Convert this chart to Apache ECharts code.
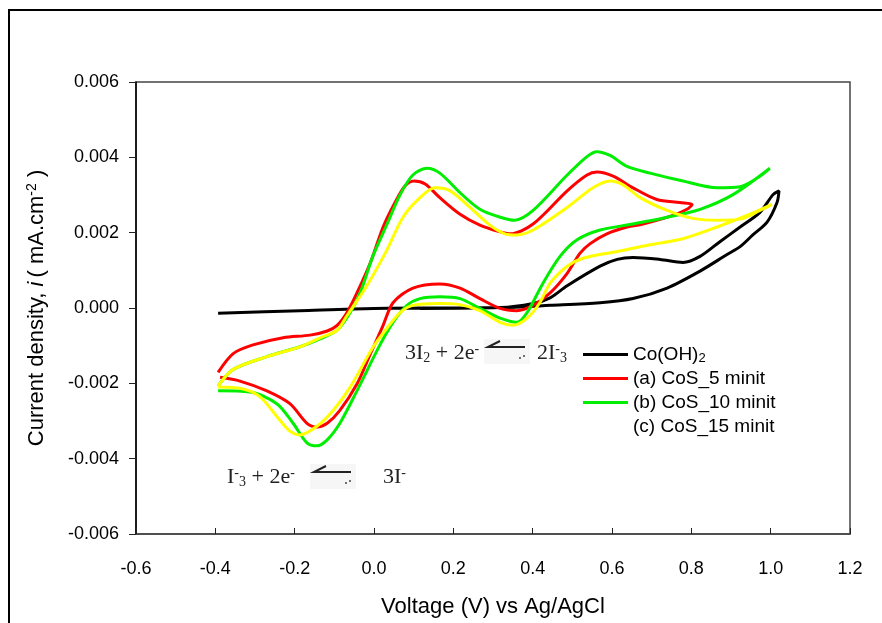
<!DOCTYPE html>
<html>
<head>
<meta charset="utf-8">
<title>CV</title>
<script src="https://cdn.jsdelivr.net/npm/echarts@6/dist/echarts.min.js"></script>
<style>
  html, body { margin: 0; padding: 0; background: #fff; }
  #chart { width: 882px; height: 623px; }
</style>
</head>
<body>
<div id="chart"></div>
<script>
// axis ticks
const xTicks = [-0.6, -0.4, -0.2, 0.0, 0.2, 0.4, 0.6, 0.8, 1.0, 1.2]
const yTicks = [-0.006, -0.004, -0.002, 0.000, 0.002, 0.004, 0.006]

const seriesNames = ['Co(OH)2', '(a) CoS_5 minit', '(b) CoS_10 minit', '(c) CoS_15 minit']
const seriesColors = ['#000000', '#ff0000', '#00ee00', '#ffff00']

// [voltage, current density], in scan order
const coOH2 = [
  [-0.393, -0.00014], [-0.187, -0.00007], [0.0, -0.00001], [0.192, 0.0], [0.318, 0.00001],
  [0.444, 0.00007], [0.570, 0.00014], [0.653, 0.00025], [0.739, 0.00053], [0.822, 0.00098],
  [0.890, 0.00142], [0.923, 0.00163], [0.955, 0.00194], [0.991, 0.00228], [1.016, 0.00280],
  [1.021, 0.00311],
  [1.006, 0.00301], [0.973, 0.00254], [0.923, 0.00215], [0.872, 0.00176], [0.822, 0.00137],
  [0.779, 0.00121], [0.721, 0.00129], [0.653, 0.00134], [0.613, 0.00129], [0.570, 0.00111],
  [0.487, 0.00059], [0.444, 0.00027], [0.401, 0.00012], [0.318, 0.00001], [0.116, -0.00001]
]

const cos5 = [
  [-0.393, -0.00171], [-0.355, -0.00121], [-0.305, -0.00098], [-0.229, -0.00079], [-0.161, -0.00072],
  [-0.118, -0.00061], [-0.093, -0.00046], [-0.068, -0.00012], [-0.043, 0.00040], [-0.010, 0.00118],
  [0.023, 0.00215], [0.053, 0.00280], [0.078, 0.00324], [0.101, 0.00337], [0.129, 0.00329],
  [0.166, 0.00293], [0.217, 0.00249], [0.267, 0.00220], [0.318, 0.00202], [0.343, 0.00197],
  [0.401, 0.00223], [0.487, 0.00311], [0.537, 0.00353], [0.562, 0.00361], [0.603, 0.00350],
  [0.653, 0.00319], [0.713, 0.00288], [0.771, 0.00280], [0.802, 0.00275],
  [0.789, 0.00262], [0.754, 0.00246], [0.678, 0.00223], [0.638, 0.00215], [0.587, 0.00197],
  [0.545, 0.00171], [0.519, 0.00145], [0.487, 0.00092], [0.444, 0.00040], [0.401, 0.00007],
  [0.360, -0.00007], [0.318, -0.00001], [0.267, 0.00025], [0.217, 0.00053], [0.166, 0.00064],
  [0.098, 0.00053], [0.048, 0.00014], [0.023, -0.00046], [-0.010, -0.00124], [-0.043, -0.00202],
  [-0.086, -0.00272], [-0.118, -0.00306], [-0.144, -0.00316], [-0.169, -0.00306], [-0.212, -0.00254],
  [-0.270, -0.00220], [-0.338, -0.00194], [-0.388, -0.00184]
]

const cos10 = [
  [-0.393, -0.00207], [-0.355, -0.00163], [-0.270, -0.00129], [-0.187, -0.00103], [-0.136, -0.00082],
  [-0.093, -0.00059], [-0.060, -0.00012], [-0.035, 0.00040], [-0.003, 0.00137], [0.033, 0.00223],
  [0.066, 0.00301], [0.098, 0.00353], [0.134, 0.00371], [0.166, 0.00358], [0.217, 0.00306],
  [0.267, 0.00262], [0.318, 0.00241], [0.355, 0.00233], [0.401, 0.00259], [0.487, 0.00353],
  [0.537, 0.00402], [0.562, 0.00415], [0.595, 0.00405], [0.638, 0.00376], [0.696, 0.00358],
  [0.779, 0.00337], [0.865, 0.00319], [0.923, 0.00322], [0.966, 0.00345], [0.998, 0.00371],
  [0.905, 0.00301], [0.822, 0.00262], [0.739, 0.00241], [0.653, 0.00223], [0.570, 0.00207],
  [0.512, 0.00181], [0.469, 0.00137], [0.426, 0.00066], [0.386, -0.00012], [0.360, -0.00038],
  [0.318, -0.00027], [0.267, -0.00001], [0.217, 0.00025], [0.166, 0.00030], [0.116, 0.00025],
  [0.083, 0.00007], [0.048, -0.00038], [0.015, -0.00098], [-0.043, -0.00220], [-0.086, -0.00306],
  [-0.118, -0.00350], [-0.144, -0.00366], [-0.169, -0.00358], [-0.204, -0.00306], [-0.245, -0.00254],
  [-0.313, -0.00223], [-0.393, -0.00220]
]

const cos15 = [
  [-0.393, -0.00207], [-0.355, -0.00163], [-0.270, -0.00129], [-0.187, -0.00103], [-0.136, -0.00079],
  [-0.093, -0.00059], [-0.068, -0.00020], [-0.018, 0.00059], [0.033, 0.00155], [0.073, 0.00241],
  [0.116, 0.00293], [0.154, 0.00319], [0.192, 0.00311], [0.242, 0.00267], [0.292, 0.00220],
  [0.330, 0.00197], [0.360, 0.00194], [0.401, 0.00207], [0.487, 0.00267], [0.552, 0.00319],
  [0.595, 0.00337], [0.628, 0.00327], [0.671, 0.00293], [0.739, 0.00259], [0.804, 0.00238],
  [0.865, 0.00233], [0.923, 0.00236], [0.973, 0.00259], [1.003, 0.00275],
  [0.948, 0.00249], [0.865, 0.00215], [0.779, 0.00184], [0.696, 0.00168], [0.613, 0.00150],
  [0.527, 0.00132], [0.487, 0.00111], [0.444, 0.00066], [0.418, 0.00014], [0.386, -0.00027],
  [0.350, -0.00046], [0.318, -0.00038], [0.267, -0.00007], [0.217, 0.00009], [0.166, 0.00012],
  [0.098, 0.00007], [0.066, -0.00012], [0.033, -0.00053], [-0.003, -0.00105], [-0.060, -0.00210],
  [-0.103, -0.00272], [-0.144, -0.00314], [-0.187, -0.00337], [-0.212, -0.00327], [-0.245, -0.00288],
  [-0.287, -0.00236], [-0.330, -0.00215], [-0.393, -0.00210]
]

const curves = [coOH2, cos5, cos10, cos15]

const FONT = 'Liberation Sans, Arial, sans-serif'
const SERIF = 'Liberation Serif, DejaVu Serif, serif'

// sub/superscript styles for the reaction labels
const chemRich = {
  sb: { font: '14px ' + SERIF, fill: '#222', verticalAlign: 'bottom', padding: [9, 0, 0, 0] },
  sp: { font: '14px ' + SERIF, fill: '#222', verticalAlign: 'top', padding: [0, 0, 9, 0] }
}

// little harpoon arrow drawn like the pasted picture in the original
function arrow (x, y) {
  return [
    { type: 'rect', shape: { x: x - 4, y: y - 8, width: 46, height: 25 }, style: { fill: '#f6f6f6' }, silent: true },
    { type: 'polyline', shape: { points: [[x + 37, y], [x, y], [x + 12, y - 6]] }, style: { stroke: '#222', lineWidth: 2, fill: null }, silent: true },
    { type: 'circle', shape: { cx: x + 32, cy: y + 11, r: 1 }, style: { fill: '#444' }, silent: true },
    { type: 'circle', shape: { cx: x + 36, cy: y + 9, r: 1 }, style: { fill: '#444' }, silent: true }
  ]
}

const chart = echarts.init(document.getElementById('chart'), null, { renderer: 'canvas' })

const option = {
  animation: false,
  backgroundColor: '#fff',
  grid: {
    left: 136,
    right: 32,
    top: 82,
    bottom: 80,
    show: true,
    borderColor: '#444',
    borderWidth: 1.5
  },
  legend: {
    orient: 'vertical',
    left: 578,
    top: 339,
    icon: 'rect',
    itemWidth: 45,
    itemHeight: 3,
    itemGap: 3,
    selectedMode: false,
    textStyle: {
      fontFamily: FONT,
      fontSize: 19,
      color: '#000',
      lineHeight: 21,
      rich: {
        sub: { fontFamily: FONT, fontSize: 13, color: '#000', verticalAlign: 'bottom', padding: [10, 0, 0, 0] }
      }
    },
    formatter: name => name === 'Co(OH)2' ? 'Co(OH){sub|2}' : name,
    data: [
      { name: seriesNames[0] },
      { name: seriesNames[1] },
      { name: seriesNames[2] },
      // no sample line shows for this one in the original
      { name: seriesNames[3], itemStyle: { opacity: 0 } }
    ]
  },
  xAxis: {
    type: 'value',
    min: xTicks[0],
    max: xTicks[xTicks.length - 1],
    interval: 0.2,
    name: 'Voltage (V) vs Ag/AgCl',
    nameLocation: 'middle',
    nameGap: 62,
    nameTextStyle: { fontFamily: FONT, fontSize: 22, color: '#000' },
    axisLine: { onZero: false, lineStyle: { color: '#444', width: 1.5 } },
    axisTick: { inside: true, length: 6, lineStyle: { color: '#222' } },
    axisLabel: {
      margin: 26,
      fontFamily: FONT,
      fontSize: 18,
      color: '#000',
      formatter: v => v.toFixed(1)
    },
    splitLine: { show: false }
  },
  yAxis: {
    type: 'value',
    min: yTicks[0],
    max: yTicks[yTicks.length - 1],
    interval: 0.002,
    name: '{t|Current density, }{it|i}{t|( mA.cm}{sup|-2}{t| )}',
    nameLocation: 'middle',
    nameGap: 88,
    nameRotate: 90,
    nameTextStyle: {
      fontFamily: FONT,
      fontSize: 22,
      color: '#000',
      rich: {
        t: { fontFamily: FONT, fontSize: 22, color: '#000' },
        it: { fontFamily: FONT, fontSize: 22, fontStyle: 'italic', color: '#000', padding: [0, 4, 0, 0] },
        sup: { fontFamily: FONT, fontSize: 14, color: '#000', verticalAlign: 'top', padding: [0, 0, 9, 0] }
      }
    },
    axisLine: { show: true, onZero: false, lineStyle: { color: '#000', width: 1.5 } },
    axisTick: { show: true, inside: false, length: 7, lineStyle: { color: '#222' } },
    axisLabel: {
      margin: 17,
      fontFamily: FONT,
      fontSize: 18,
      color: '#000',
      formatter: v => v.toFixed(3)
    },
    splitLine: { show: false }
  },
  series: curves.map((pts, k) => ({
    name: seriesNames[k],
    type: 'line',
    data: pts,
    smooth: 0.3,
    showSymbol: false,
    symbol: 'none',
    lineStyle: { color: seriesColors[k], width: 3 },
    itemStyle: { color: seriesColors[k] },
    z: 2 + k
  })),
  graphic: [
    // outer frame of the figure
    {
      type: 'rect',
      shape: { x: 9, y: 10, width: 900, height: 700 },
      style: { fill: 'none', stroke: '#000', lineWidth: 2 },
      silent: true
    },
    // upper reaction label
    ...arrow(488, 347),
    {
      type: 'text',
      left: 405,
      top: 342,
      style: { text: '3I{sb|2} + 2e{sp|-}', font: '22px ' + SERIF, fill: '#222', rich: chemRich },
      silent: true
    },
    {
      type: 'text',
      left: 537,
      top: 342,
      style: { text: '2I{sp|-}{sb|3}', font: '22px ' + SERIF, fill: '#222', rich: chemRich },
      silent: true
    },
    // lower reaction label
    ...arrow(314, 472),
    {
      type: 'text',
      left: 227,
      top: 466,
      style: { text: 'I{sp|-}{sb|3} + 2e{sp|-}', font: '22px ' + SERIF, fill: '#222', rich: chemRich },
      silent: true
    },
    {
      type: 'text',
      left: 383,
      top: 466,
      style: { text: '3I{sp|-}', font: '22px ' + SERIF, fill: '#222', rich: chemRich },
      silent: true
    }
  ]
}

chart.setOption(option)
</script>
</body>
</html>
